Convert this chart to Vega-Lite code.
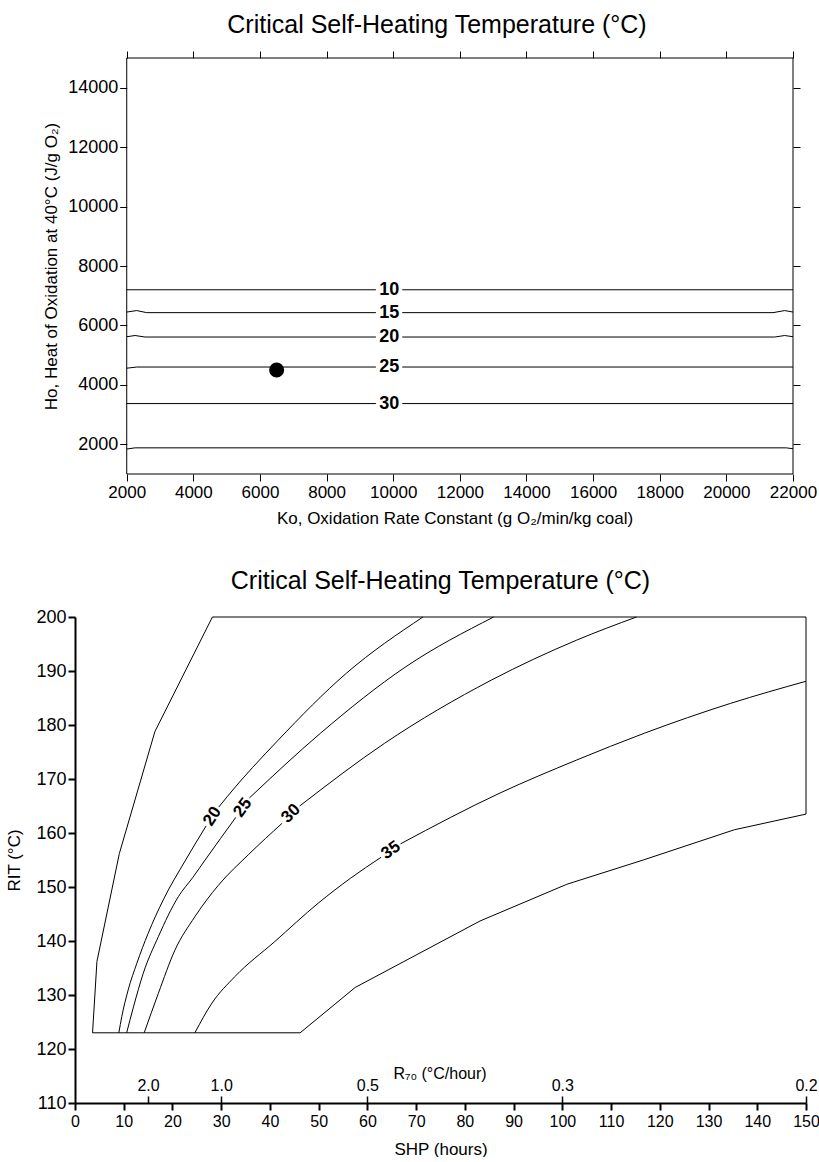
{
  "$schema": "https://vega.github.io/schema/vega-lite/v6.json",
  "padding": {"left": 5, "top": 12, "right": 0, "bottom": 0},
  "spacing": 43,
  "config": {
    "font": "Liberation Sans",
    "view": {"stroke": null},
    "axis": {"labelColor": "black", "titleColor": "black", "tickColor": "black", "domainColor": "black", "labelFont": "Liberation Sans", "titleFont": "Liberation Sans", "titleFontWeight": "normal", "grid": false},
    "title": {"font": "Liberation Sans", "fontWeight": "normal", "fontSize": 25, "color": "black", "anchor": "middle"}
  },
  "vconcat": [
    {
      "width": 718,
      "height": 416,
      "title": {"text": "Critical Self-Heating Temperature (°C)", "dx": 3, "frame": "group", "offset": 13},
      "layer": [
        {
          "data": {"values": [{"x1": 2000, "x2": 22000, "y1": 1000, "y2": 15000}]},
          "mark": {"type": "rect", "filled": false, "stroke": "black", "strokeWidth": 1},
          "encoding": {
            "x": {"field": "x1", "type": "quantitative", "scale": {"domain": [447.4, 22000], "nice": false, "zero": false},
              "axis": {"orient": "bottom", "values": [2000, 4000, 6000, 8000, 10000, 12000, 14000, 16000, 18000, 20000, 22000], "format": "d", "domain": false, "tickSize": 7, "labelFontSize": 17, "labelFlush": false, "labelPadding": 3, "title": "Ko, Oxidation Rate Constant (g O₂/min/kg coal)", "titleFontSize": 17, "titleX": 379.5, "titlePadding": 10}},
            "x2": {"field": "x2"},
            "y": {"field": "y1", "type": "quantitative", "scale": {"domain": [1000, 15000], "nice": false, "zero": false},
              "axis": {"orient": "left", "offset": -51.7, "values": [2000, 4000, 6000, 8000, 10000, 12000, 14000], "format": "d", "domain": false, "tickSize": 7, "labelFontSize": 18, "labelPadding": 2, "title": "Ho, Heat of Oxidation at 40°C (J/g O₂)", "titleFontSize": 17, "titlePadding": 7}},
            "y2": {"field": "y2"}
          }
        },
        {
          "data": {"values": [
            {"seg": "10a", "x": 2000, "y": 7200}, {"seg": "10a", "x": 9480, "y": 7200},
            {"seg": "10b", "x": 10270, "y": 7200}, {"seg": "10b", "x": 22000, "y": 7200},
            {"seg": "15a", "x": 2000, "y": 6450}, {"seg": "15a", "x": 2300, "y": 6500}, {"seg": "15a", "x": 2600, "y": 6430}, {"seg": "15a", "x": 9480, "y": 6430},
            {"seg": "15b", "x": 10270, "y": 6430}, {"seg": "15b", "x": 21400, "y": 6430}, {"seg": "15b", "x": 21750, "y": 6500}, {"seg": "15b", "x": 22000, "y": 6450},
            {"seg": "20a", "x": 2000, "y": 5620}, {"seg": "20a", "x": 2250, "y": 5660}, {"seg": "20a", "x": 2550, "y": 5610}, {"seg": "20a", "x": 9480, "y": 5610},
            {"seg": "20b", "x": 10270, "y": 5610}, {"seg": "20b", "x": 21450, "y": 5610}, {"seg": "20b", "x": 21750, "y": 5660}, {"seg": "20b", "x": 22000, "y": 5620},
            {"seg": "25a", "x": 2000, "y": 4560}, {"seg": "25a", "x": 2300, "y": 4600}, {"seg": "25a", "x": 9480, "y": 4600},
            {"seg": "25b", "x": 10270, "y": 4600}, {"seg": "25b", "x": 22000, "y": 4600},
            {"seg": "30a", "x": 2000, "y": 3370}, {"seg": "30a", "x": 9480, "y": 3370},
            {"seg": "30b", "x": 10270, "y": 3370}, {"seg": "30b", "x": 22000, "y": 3370},
            {"seg": "b", "x": 2000, "y": 1840}, {"seg": "b", "x": 2250, "y": 1880}, {"seg": "b", "x": 21800, "y": 1880}, {"seg": "b", "x": 22000, "y": 1850}
          ]},
          "mark": {"type": "line", "stroke": "black", "strokeWidth": 1},
          "encoding": {
            "x": {"field": "x", "type": "quantitative", "scale": {"domain": [447.4, 22000], "nice": false, "zero": false},
              "axis": {"orient": "top", "values": [2000, 4000, 6000, 8000, 10000, 12000, 14000, 16000, 18000, 20000, 22000], "labels": false, "domain": false, "tickSize": 7, "title": null}},
            "y": {"field": "y", "type": "quantitative", "scale": {"domain": [1000, 15000], "nice": false, "zero": false},
              "axis": {"orient": "right", "values": [2000, 4000, 6000, 8000, 10000, 12000, 14000], "labels": false, "domain": false, "tickSize": 7, "title": null}},
            "detail": {"field": "seg"}
          }
        },
        {
          "data": {"values": [
            {"x": 9880, "y": 7200, "t": "10"}, {"x": 9880, "y": 6430, "t": "15"}, {"x": 9880, "y": 5610, "t": "20"}, {"x": 9880, "y": 4600, "t": "25"}, {"x": 9880, "y": 3370, "t": "30"}
          ]},
          "mark": {"type": "text", "fontWeight": "bold", "fontSize": 18, "font": "Liberation Sans", "baseline": "middle", "align": "center", "color": "black"},
          "encoding": {
            "x": {"field": "x", "type": "quantitative", "scale": {"domain": [447.4, 22000], "nice": false, "zero": false}, "axis": null},
            "y": {"field": "y", "type": "quantitative", "scale": {"domain": [1000, 15000], "nice": false, "zero": false}, "axis": null},
            "text": {"field": "t"}
          }
        },
        {
          "data": {"values": [{"x": 6500, "y": 4500}]},
          "mark": {"type": "point", "shape": "circle", "filled": true, "size": 227, "color": "black", "opacity": 1},
          "encoding": {
            "x": {"field": "x", "type": "quantitative", "scale": {"domain": [447.4, 22000], "nice": false, "zero": false}, "axis": null},
            "y": {"field": "y", "type": "quantitative", "scale": {"domain": [1000, 15000], "nice": false, "zero": false}, "axis": null}
          }
        }
      ],
      "resolve": {"axis": {"x": "independent", "y": "independent"}}
    },
    {
      "width": 731,
      "height": 486,
      "title": {"text": "Critical Self-Heating Temperature (°C)", "frame": "group", "offset": 14},
      "layer": [
        {
          "data": {"values": [
            {"i": 0, "x": 3.6, "y": 123}, {"i": 1, "x": 4.5, "y": 136.2}, {"i": 2, "x": 9.1, "y": 156.2}, {"i": 3, "x": 16.4, "y": 178.8}, {"i": 4, "x": 28.2, "y": 200},
            {"i": 5, "x": 150, "y": 200}, {"i": 6, "x": 150, "y": 163.5}, {"i": 7, "x": 135.3, "y": 160.6}, {"i": 8, "x": 116.6, "y": 155}, {"i": 9, "x": 100.9, "y": 150.5},
            {"i": 10, "x": 83.1, "y": 143.7}, {"i": 11, "x": 57.5, "y": 131.4}, {"i": 12, "x": 46.2, "y": 123}, {"i": 13, "x": 3.6, "y": 123}
          ]},
          "mark": {"type": "line", "stroke": "black", "strokeWidth": 1},
          "encoding": {
            "x": {"field": "x", "type": "quantitative", "scale": {"domain": [0, 150], "nice": false, "zero": false},
              "axis": {"orient": "bottom", "values": [0, 10, 20, 30, 40, 50, 60, 70, 80, 90, 100, 110, 120, 130, 140, 150], "domainWidth": 2, "tickWidth": 2, "tickSize": 7, "labelFontSize": 16, "labelFlush": false, "labelPadding": 3, "title": "SHP (hours)", "titleFontSize": 17, "titlePadding": 12}},
            "y": {"field": "y", "type": "quantitative", "scale": {"domain": [110, 200], "nice": false, "zero": false},
              "axis": {"orient": "left", "values": [110, 120, 130, 140, 150, 160, 170, 180, 190, 200], "domainWidth": 2, "tickWidth": 2, "tickSize": 7, "labelFontSize": 18, "labelPadding": 2, "title": "RIT (°C)", "titleFontSize": 17, "titlePadding": 12}},
            "order": {"field": "i"}
          }
        },
        {
          "data": {"values": [
            {"seg": "20a", "x": 9.0, "y": 123}, {"seg": "20a", "x": 9.6, "y": 126}, {"seg": "20a", "x": 10.9, "y": 130.9}, {"seg": "20a", "x": 12.7, "y": 135.9}, {"seg": "20a", "x": 15.0, "y": 141.4}, {"seg": "20a", "x": 18.1, "y": 147.6}, {"seg": "20a", "x": 22.7, "y": 155}, {"seg": "20a", "x": 26.9, "y": 161.3},
            {"seg": "20b", "x": 29.5, "y": 164.8}, {"seg": "20b", "x": 31.2, "y": 166.7}, {"seg": "20b", "x": 41.7, "y": 177.2}, {"seg": "20b", "x": 55.7, "y": 189.6}, {"seg": "20b", "x": 71.4, "y": 200},
            {"seg": "25a", "x": 10.6, "y": 123}, {"seg": "25a", "x": 12.0, "y": 127.8}, {"seg": "25a", "x": 14.0, "y": 134}, {"seg": "25a", "x": 17.1, "y": 140.8}, {"seg": "25a", "x": 21.2, "y": 148.2}, {"seg": "25a", "x": 24.2, "y": 151.8}, {"seg": "25a", "x": 26.7, "y": 155}, {"seg": "25a", "x": 33.0, "y": 162.9},
            {"seg": "25b", "x": 35.8, "y": 166.5}, {"seg": "25b", "x": 50.4, "y": 178.5}, {"seg": "25b", "x": 67.9, "y": 190.8}, {"seg": "25b", "x": 85.9, "y": 200},
            {"seg": "30a", "x": 14.2, "y": 123}, {"seg": "30a", "x": 17.1, "y": 130.3}, {"seg": "30a", "x": 20.5, "y": 138.3}, {"seg": "30a", "x": 24.6, "y": 144.5}, {"seg": "30a", "x": 29.4, "y": 150.3}, {"seg": "30a", "x": 35.6, "y": 156.0}, {"seg": "30a", "x": 42.5, "y": 161.8},
            {"seg": "30b", "x": 46.1, "y": 165.0}, {"seg": "30b", "x": 63.5, "y": 176.6}, {"seg": "30b", "x": 85.4, "y": 188.3}, {"seg": "30b", "x": 102.9, "y": 195.7}, {"seg": "30b", "x": 115.2, "y": 200},
            {"seg": "35a", "x": 24.6, "y": 123}, {"seg": "35a", "x": 28.1, "y": 128.5}, {"seg": "35a", "x": 32.8, "y": 133.4}, {"seg": "35a", "x": 41.0, "y": 139.9}, {"seg": "35a", "x": 49.9, "y": 147.0}, {"seg": "35a", "x": 56.5, "y": 151.6}, {"seg": "35a", "x": 62.8, "y": 155.5},
            {"seg": "35b", "x": 66.8, "y": 158.0}, {"seg": "35b", "x": 87.2, "y": 167.4}, {"seg": "35b", "x": 102.9, "y": 173.5}, {"seg": "35b", "x": 116.9, "y": 178.5}, {"seg": "35b", "x": 134.5, "y": 184.0}, {"seg": "35b", "x": 150, "y": 188.1}
          ]},
          "mark": {"type": "line", "stroke": "black", "strokeWidth": 1, "interpolate": "monotone"},
          "encoding": {
            "x": {"field": "x", "type": "quantitative", "scale": {"domain": [0, 150], "nice": false, "zero": false},
              "axis": {"orient": "top", "offset": -486, "values": [15, 30, 60, 100, 150], "labelExpr": "datum.value == 15 ? '2.0' : datum.value == 30 ? '1.0' : datum.value == 60 ? '0.5' : datum.value == 100 ? '0.3' : '0.2'", "domain": false, "tickWidth": 1.5, "tickSize": 7, "labelFontSize": 16, "labelFlush": false, "labelPadding": 3, "title": "R₇₀ (°C/hour)", "titleFontSize": 16, "titleX": 364.5, "titlePadding": -4}},
            "y": {"field": "y", "type": "quantitative", "scale": {"domain": [110, 200], "nice": false, "zero": false}, "axis": null},
            "detail": {"field": "seg"}
          }
        },
        {
          "data": {"values": [
            {"x": 28.2, "y": 163.1, "t": "20", "a": -57},
            {"x": 34.4, "y": 164.7, "t": "25", "a": -54},
            {"x": 44.3, "y": 163.6, "t": "30", "a": -45},
            {"x": 64.8, "y": 156.8, "t": "35", "a": -35}
          ]},
          "mark": {"type": "text", "fontWeight": "bold", "fontSize": 17, "font": "Liberation Sans", "baseline": "middle", "align": "center", "color": "black"},
          "encoding": {
            "x": {"field": "x", "type": "quantitative", "scale": {"domain": [0, 150], "nice": false, "zero": false}, "axis": null},
            "y": {"field": "y", "type": "quantitative", "scale": {"domain": [110, 200], "nice": false, "zero": false}, "axis": null},
            "text": {"field": "t"},
            "angle": {"field": "a", "type": "quantitative", "scale": null}
          }
        }
      ],
      "resolve": {"axis": {"x": "independent", "y": "independent"}}
    }
  ]
}
